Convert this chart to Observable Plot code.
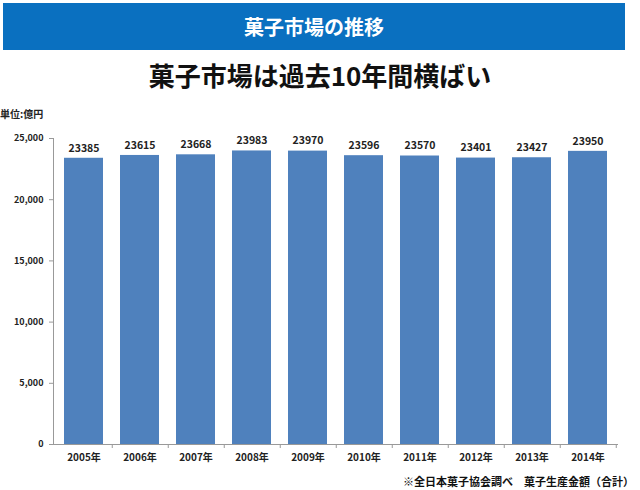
<!DOCTYPE html>
<html><head><meta charset="utf-8">
<script src="https://cdn.jsdelivr.net/npm/d3@7"></script>
<script src="https://cdn.jsdelivr.net/npm/@observablehq/plot@0.6"></script>
<style>
body{margin:0;background:#fff;font-family:"Noto Sans CJK JP","Noto Sans",sans-serif;}
#wrap{position:relative;width:640px;height:490px;overflow:hidden;}
#banner{position:absolute;left:3px;top:3px;width:622px;height:47px;background:#0a70c0;color:#fff;font-weight:bold;font-size:20px;line-height:47px;text-align:center;}
#sub{position:absolute;left:0;top:57px;width:640px;text-align:center;font-weight:bold;font-size:26px;line-height:36px;color:#111;}
#unit{position:absolute;left:0;top:106px;font-size:10px;font-weight:bold;color:#222;}
#chart{position:absolute;left:0;top:100px;}
#cap{position:absolute;right:6px;top:473px;font-size:11px;font-weight:bold;color:#111;}
</style></head>
<body><div id="wrap">
<div id="banner">菓子市場の推移</div>
<div id="sub">菓子市場は過去10年間横ばい</div>
<div id="chart"></div>
<div id="unit">単位:億円</div>
<div id="cap">※全日本菓子協会調べ　菓子生産金額（合計）</div>
</div>
<script>
const years = ["2005年","2006年","2007年","2008年","2009年","2010年","2011年","2012年","2013年","2014年"];
const values = [23385,23615,23668,23983,23970,23596,23570,23401,23427,23950];
const yTicks = [0,5000,10000,15000,20000,25000];
const data = years.map((y,i)=>({year:y, value:values[i]}));

const chart = Plot.plot({
  width: 640, height: 370,
  marginTop: 38, marginBottom: 26, marginLeft: 53, marginRight: 22,
  style: {fontFamily: '"Noto Sans CJK JP","Noto Sans",sans-serif', fontSize: "10px", fontWeight: "bold", color: "#222"},
  x: {domain: years, paddingInner: 0.31, paddingOuter: 0.155, label: null},
  y: {domain: [0, 25000], label: null},
  marks: [
    Plot.barY(data, {x: "year", y: "value", fill: "#4f81bd"}),
    Plot.text(data, {x: "year", y: "value", text: d => String(d.value), dy: -10, fontSize: 10.5, fontWeight: "bold", fill: "#222"}),
    Plot.frame({anchor: "left", stroke: "#999"}),
    Plot.ruleY([0], {stroke: "#999"}),
    Plot.axisY({ticks: yTicks, tickFormat: d3.format(","), tickSize: 4, tickPadding: 6, stroke: "#999", fontSize: 9, label: null}),
    Plot.axisX({tickSize: 0, tickPadding: 9, fontSize: 10, label: null}),
    Plot.axisX({tickSize: 4, tickFormat: () => "", dx: 28.25, stroke: "#999", label: null})
  ]
});
document.getElementById("chart").appendChild(chart);
</script>
</body></html>
